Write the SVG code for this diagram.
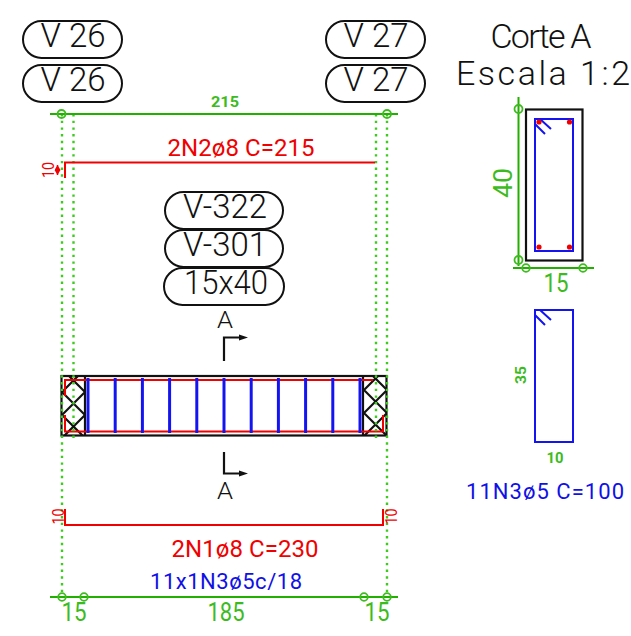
<svg xmlns="http://www.w3.org/2000/svg" width="631" height="636" viewBox="0 0 631 636">
<style>
text{font-family:Roboto,"Liberation Sans",Arial,sans-serif;text-anchor:middle;font-weight:300}
.k{fill:#111}.r{fill:#f00000;font-weight:400}.b{fill:#1010e8;font-weight:400}.g{fill:#3dbb1e;font-weight:400}
.s{font-weight:700}
.pill{fill:#fff;stroke:#111;stroke-width:2}
.bk{fill:none;stroke:#111;stroke-width:2.200}
.rd{fill:none;stroke:#f00000;stroke-width:2}
.bl{fill:none;stroke:#1414f0;stroke-width:2}
.st{fill:none;stroke:#1414f0;stroke-width:3}
.gr{fill:none;stroke:#22b000;stroke-width:2}
.gc{fill:none;stroke:#3dbb1e;stroke-width:1.800}
.dot{fill:none;stroke:#3dcc1e;stroke-width:2.400;stroke-dasharray:2.400 4.300}
</style>
<defs>
<marker id="ah" markerUnits="userSpaceOnUse" markerWidth="10" markerHeight="8" refX="0" refY="4" orient="auto"><path d="M0 1L9 4L0 7Z" fill="#111"/></marker>
<marker id="ra" markerUnits="userSpaceOnUse" markerWidth="8" markerHeight="8" refX="5" refY="3" orient="auto-start-reverse"><path d="M0 0L5 3L0 6Z" fill="#f00000"/></marker>
<clipPath id="cl"><rect x="61" y="376" width="24" height="60"/></clipPath>
<clipPath id="cr"><rect x="363" y="376" width="24" height="60"/></clipPath>
</defs>
<g id="beam">
<rect class="bk" x="61.500" y="376" width="325" height="59.500"/>
<path class="bk" d="M85 376V435.500M363 376V435.500"/>
<g clip-path="url(#cl)"><path class="bk" d="M50 357L97 404M50 380L97 427M50 403L97 450M97 357L50 404M97 380L50 427M97 403L50 450"/></g>
<g clip-path="url(#cr)"><path class="bk" d="M352 355L399 402M352 378L399 425M352 401L399 448M399 355L352 402M399 378L352 425M399 401L352 448"/></g>
<path class="rd" d="M65 396V380H373M65 415V431.500H383V415"/>
<path class="st" d="M88 378V433M115.200 378V433M142.400 378V433M169.600 378V433M196.800 378V433M224 378V433M251.200 378V433M278.400 378V433M305.600 378V433M332.800 378V433M360 378V433"/>
</g>
<g id="connectors">
<path class="dot" d="M62 114V597M73.500 114V440M376 114V440M387 114V597"/>
<path class="gr" d="M50 114H398M50 597H398"/>
<g class="gc"><circle cx="61.500" cy="114" r="4"/><circle cx="387" cy="114" r="4"/><circle cx="62" cy="597" r="3.800"/><circle cx="84" cy="597" r="3.800"/><circle cx="364" cy="597" r="3.800"/><circle cx="387" cy="597" r="3.800"/></g>
<path class="rd" d="M65 178V162.500H375"/>
<path d="M57.500 165V175" fill="none" stroke="#f00000" stroke-width="1.500" marker-start="url(#ra)" marker-end="url(#ra)"/>
<path class="rd" d="M65 509V525H383V509"/>
</g>
<g id="section-marks">
<path class="bk" d="M224 361V337.500H239" marker-end="url(#ah)"/>
<path class="bk" d="M224 452V473.500H239" marker-end="url(#ah)"/>
<text class="k" x="225" y="328" font-size="23" textLength="16" lengthAdjust="spacingAndGlyphs">A</text>
<text class="k" x="225" y="499" font-size="23" textLength="16" lengthAdjust="spacingAndGlyphs">A</text>
</g>
<g id="v26a"><rect class="pill" x="23" y="21" width="99" height="37" rx="18.500"/><text class="k" x="73" y="47" font-size="33" textLength="65" lengthAdjust="spacing">V 26</text></g>
<g id="v26b"><rect class="pill" x="23" y="65" width="99" height="37" rx="18.500"/><text class="k" x="73" y="91" font-size="33" textLength="65" lengthAdjust="spacing">V 26</text></g>
<g id="v27a"><rect class="pill" x="326" y="21" width="99" height="37" rx="18.500"/><text class="k" x="376" y="47" font-size="33" textLength="65" lengthAdjust="spacing">V 27</text></g>
<g id="v27b"><rect class="pill" x="326" y="65" width="99" height="37" rx="18.500"/><text class="k" x="376" y="91" font-size="33" textLength="65" lengthAdjust="spacing">V 27</text></g>
<g id="v322"><rect class="pill" x="165" y="192" width="118" height="37" rx="18.500"/><text class="k" x="225" y="218" font-size="33" textLength="84" lengthAdjust="spacingAndGlyphs">V-322</text></g>
<g id="v301"><rect class="pill" x="165" y="230" width="118" height="37" rx="18.500"/><text class="k" x="225" y="256" font-size="33" textLength="84" lengthAdjust="spacingAndGlyphs">V-301</text></g>
<g id="size"><rect class="pill" x="164" y="268" width="120" height="37" rx="18.500"/><text class="k" x="226" y="294" font-size="33" textLength="84" lengthAdjust="spacingAndGlyphs">15x40</text></g>
<g id="labels">
<text class="g s" x="225" y="107" font-size="15" textLength="28" lengthAdjust="spacingAndGlyphs">215</text>
<text class="r" x="241" y="156" font-size="24" textLength="147" lengthAdjust="spacing">2N2ø8 C=215</text>
<text class="r" x="245" y="557" font-size="24" textLength="147" lengthAdjust="spacing">2N1ø8 C=230</text>
<text class="b" x="226" y="589" font-size="22" textLength="152" lengthAdjust="spacing">11x1N3ø5c/18</text>
<text class="g" x="74" y="621" font-size="25" textLength="25" lengthAdjust="spacingAndGlyphs">15</text>
<text class="g" x="226" y="621" font-size="25" textLength="37" lengthAdjust="spacingAndGlyphs">185</text>
<text class="g" x="377" y="621" font-size="25" textLength="25" lengthAdjust="spacingAndGlyphs">15</text>
<text class="r" transform="translate(54 170) rotate(-90)" font-size="16" textLength="16" lengthAdjust="spacingAndGlyphs">10</text>
<text class="r" transform="translate(64 516.500) rotate(-90)" font-size="16" textLength="16" lengthAdjust="spacingAndGlyphs">10</text>
<text class="r" transform="translate(397 516.500) rotate(-90)" font-size="16" textLength="16" lengthAdjust="spacingAndGlyphs">10</text>
</g>
<g id="title">
<text class="k" x="541" y="48" font-size="34" textLength="101" lengthAdjust="spacing">Corte A</text>
<text class="k" x="543" y="85" font-size="34" textLength="174" lengthAdjust="spacing">Escala 1:2</text>
</g>
<g id="section">
<path class="gr" d="M518.500 97V266M513 268H594"/>
<g class="gc"><circle cx="518.500" cy="109" r="4"/><circle cx="518.500" cy="260" r="4"/><circle cx="526" cy="268" r="3.800"/><circle cx="583" cy="268" r="3.800"/></g>
<rect class="bk" x="526" y="109.500" width="56.500" height="151"/>
<rect class="bl" x="535" y="119" width="38" height="132"/>
<path class="bl" d="M540 119L551 129M535 124L545 134"/>
<g fill="#f00000"><circle cx="539" cy="122" r="2.600"/><circle cx="569.500" cy="122" r="2.600"/><circle cx="539" cy="247" r="2.600"/><circle cx="569.500" cy="247" r="2.600"/></g>
<text class="g" transform="translate(512 183) rotate(-90)" font-size="25" textLength="30" lengthAdjust="spacingAndGlyphs">40</text>
<text class="g" x="556" y="292" font-size="25" textLength="25" lengthAdjust="spacingAndGlyphs">15</text>
</g>
<g id="stirrup">
<rect class="bl" x="535" y="310" width="38" height="132"/>
<path class="bl" d="M540 310L551 320M535 315L545 325"/>
<text class="g" transform="translate(526 375) rotate(-90)" font-size="15" textLength="18" lengthAdjust="spacingAndGlyphs" style="font-weight:700">35</text>
<text class="g" x="555" y="463" font-size="15" textLength="17" lengthAdjust="spacingAndGlyphs" style="font-weight:700">10</text>
<text class="b" x="545" y="499" font-size="22" textLength="158" lengthAdjust="spacing">11N3ø5 C=100</text>
</g>
</svg>
